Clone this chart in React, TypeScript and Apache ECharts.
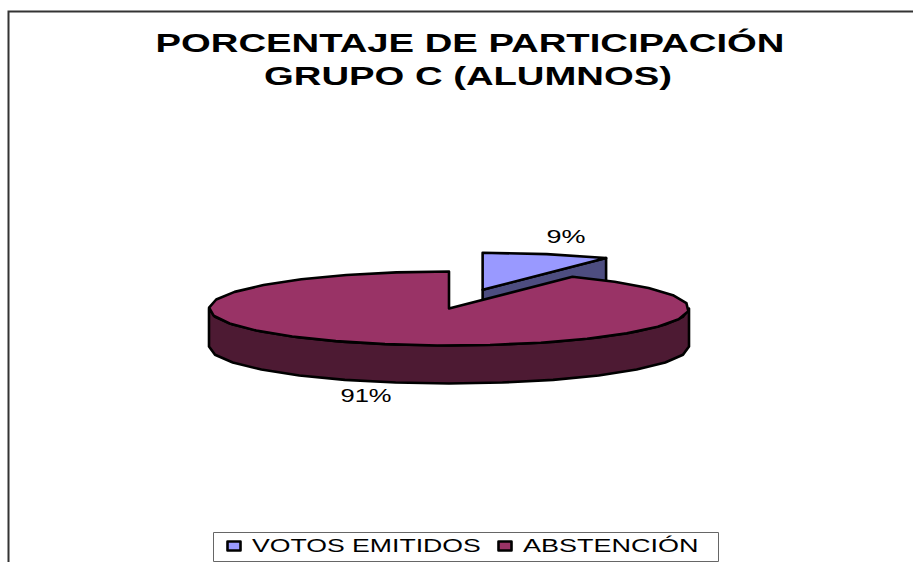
import React, { useEffect, useRef } from "react";
import * as echarts from "echarts";

const categories = ["VOTOS EMITIDOS", "ABSTENCIÓN"];
const shares = [8.6, 91.4];
const faceColors = ["#9999ff", "#993366"];
const wallColors = ["#4d4d80", "#4d1a33"];
const titleLines = ["PORCENTAJE DE PARTICIPACIÓN", "GRUPO C (ALUMNOS)"];

const FONT = '"Liberation Sans", Arial, sans-serif';
const CX = 449, CY = 308.5, RX = 240, RY = 37, DEPTH = 38, EXPLODE = 0.525;
const total = shares.reduce((a, b) => a + b, 0);

const pt = (cx: number, cy: number, a: number, dy = 0): number[] => [
  cx + RX * Math.sin(a),
  cy - RY * Math.cos(a) + dy,
];
const arc = (cx: number, cy: number, a0: number, a1: number, dy = 0) => {
  const n = Math.max(2, Math.round(Math.abs(a1 - a0) / (Math.PI / 14)));
  const out: number[][] = [];
  for (let i = 0; i <= n; i++) out.push(pt(cx, cy, a0 + ((a1 - a0) * i) / n, dy));
  return out;
};
const line = { stroke: "#000", lineWidth: 2.6, lineJoin: "round" as const };
const poly = (points: number[][], fill: string) => ({
  type: "polygon",
  shape: { points },
  style: { fill, ...line },
});
const stretched = (text: string, x: number, y: number, size: number, sx: number, align: string, weight = "normal") => ({
  type: "text",
  x,
  y,
  scaleX: sx,
  scaleY: 1,
  style: { text, font: `${weight} ${size}px ${FONT}`, fill: "#000", align, verticalAlign: "middle" },
});

const renderSlice = (index: number) => (_p: any, api: any) => {
  const value = api.value(0);
  const pct = `${Math.round((value / total) * 100)}%`;
  const sweep = (shares[0] / total) * Math.PI * 2;
  if (index === 0) {
    const mid = sweep / 2;
    const ax = CX + EXPLODE * RX * Math.sin(mid);
    const ay = CY - EXPLODE * RY * Math.cos(mid);
    const tip = pt(ax, ay, sweep);
    return {
      type: "group",
      children: [
        poly([[ax, ay], tip, [tip[0], tip[1] + DEPTH], [ax, ay + DEPTH]], wallColors[0]),
        poly([[ax, ay], ...arc(ax, ay, 0, sweep)], faceColors[0]),
        stretched(pct, 566, 237, 18, 1.5, "center"),
      ],
    };
  }
  const wall = [...arc(CX, CY, Math.PI / 2, Math.PI * 1.5), ...arc(CX, CY, Math.PI * 1.5, Math.PI / 2, DEPTH)];
  return {
    type: "group",
    children: [
      poly(wall, wallColors[1]),
      poly([[CX, CY], ...arc(CX, CY, sweep, Math.PI * 2)], faceColors[1]),
      stretched(pct, 366, 396, 18, 1.42, "center"),
    ],
  };
};

export default function App() {
  const ref = useRef<HTMLDivElement>(null);
  useEffect(() => {
    const chart = echarts.init(ref.current!, null, { renderer: "svg" });
    chart.setOption({
      animation: false,
      backgroundColor: "#fff",
      series: categories.map((name, i) => ({
        type: "custom",
        name,
        coordinateSystem: "none",
        silent: true,
        z: 2 + i,
        data: [[shares[i]]],
        renderItem: renderSlice(i),
      })),
      graphic: [
        {
          type: "polyline",
          shape: { points: [[8.5, 562], [8.5, 11.5], [913, 11.5]] },
          style: { stroke: "#333", lineWidth: 2, fill: "none" },
        },
        stretched(titleLines[0], 470, 43, 25, 1.53, "center", "bold"),
        stretched(titleLines[1], 468, 76, 25, 1.53, "center", "bold"),
        {
          type: "rect",
          shape: { x: 213.5, y: 532.5, width: 505, height: 29 },
          style: { fill: "#fff", stroke: "#666", lineWidth: 1 },
        },
        {
          type: "rect",
          shape: { x: 227.5, y: 541.5, width: 13, height: 9 },
          style: { fill: faceColors[0], ...line },
        },
        stretched(categories[0], 252, 546, 18, 1.48, "left"),
        {
          type: "rect",
          shape: { x: 498.5, y: 541.5, width: 13, height: 9 },
          style: { fill: faceColors[1], ...line },
        },
        stretched(categories[1], 523, 546, 18, 1.5, "left"),
      ],
    });
    return () => chart.dispose();
  }, []);
  return (
    <div
      ref={ref}
      style={{ position: "absolute", left: 0, top: 0, width: 913, height: 562 }}
    />
  );
}
